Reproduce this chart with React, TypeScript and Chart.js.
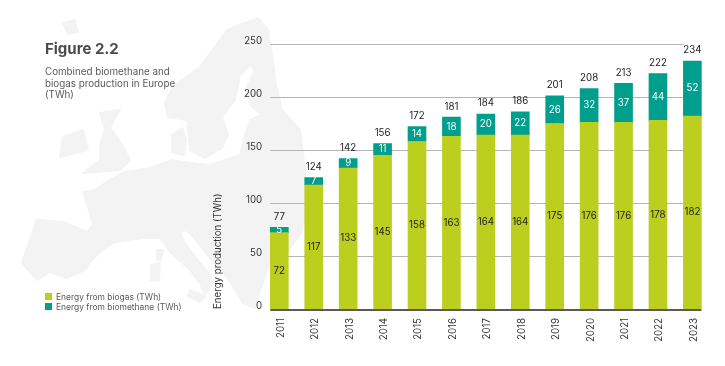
import React, { useEffect, useRef } from "react";
import { Chart, registerables } from "chart.js";

Chart.register(...registerables);

const years = ["2011","2012","2013","2014","2015","2016","2017","2018","2019","2020","2021","2022","2023"];
const biogas = [72,117,133,145,158,163,164,164,175,176,176,178,182];
const biomethane = [5,7,9,11,14,18,20,22,26,32,37,44,52];
const totals = [77,124,142,156,172,181,184,186,201,208,213,222,234];
const yTicks = [0,50,100,150,200,250];

const LIME = "#bccf1e";
const TEAL = "#009f8d";
const FONT = "Inter, sans-serif";

const mapPaths = [
  "M258 18 L268 30 L272 55 L276 85 L282 110 L300 130 L305 170 L308 205 L300 235 L285 255 L270 262 L262 285 L255 308 L243 303 L232 285 L222 270 L213 262 L200 245 L187 230 L180 232 L183 240 L196 258 L210 275 L212 285 L205 295 L200 283 L188 268 L170 252 L160 238 L145 238 L127 240 L113 243 L100 252 L90 262 L85 270 L67 278 L50 272 L37 280 L22 263 L28 245 L37 220 L63 222 L87 232 L93 225 L88 207 L83 192 L95 190 L105 183 L125 172 L150 168 L172 160 L190 163 L210 165 L240 155 L245 135 L250 120 L262 115 L250 105 L247 87 L255 70 L250 65 L240 75 L235 100 L222 117 L228 135 L222 148 L205 158 L190 150 L187 120 L168 117 L165 103 L173 87 L200 67 L227 30 Z",
  "M172 135 L182 128 L186 140 L184 155 L172 152 Z",
  "M100 113 L120 110 L110 127 L122 145 L130 160 L120 170 L83 173 L100 160 L100 145 L105 130 Z",
  "M63 137 L83 130 L88 150 L60 157 Z",
  "M63 23 L75 20 L78 32 L68 34 Z",
  "M157 250 L163 250 L161 260 L157 260 Z",
  "M151 265 L160 263 L159 280 L151 281 Z",
  "M190 290 L205 296 L200 302 L188 296 Z",
];

const valueLabels = {
  id: "valueLabels",
  beforeDatasetsDraw(chart: any) {
    const { ctx, scales } = chart;
    const y = scales.y;
    const first = chart.getDatasetMeta(0).data[0];
    const last = chart.getDatasetMeta(0).data[years.length - 1];
    const x0 = first.x - first.width / 2;
    const x1 = last.x - last.width / 2;
    ctx.save();
    ctx.strokeStyle = "#b5b5b5";
    ctx.lineWidth = 1;
    yTicks.filter((v) => v > 0).forEach((v) => {
      const py = Math.round(y.getPixelForValue(v)) + 0.5;
      ctx.beginPath();
      ctx.moveTo(x0, py);
      ctx.lineTo(x1, py);
      ctx.stroke();
    });
    ctx.restore();
  },
  afterDatasetsDraw(chart: any) {
    const { ctx, scales } = chart;
    const y = scales.y;
    const m0 = chart.getDatasetMeta(0).data;
    const m1 = chart.getDatasetMeta(1).data;
    ctx.save();
    ctx.strokeStyle = "#5a5a5a";
    ctx.lineWidth = 2;
    const base = y.getPixelForValue(0);
    ctx.beginPath();
    ctx.moveTo(m0[0].x - m0[0].width / 2, base + 1);
    ctx.lineTo(m0[years.length - 1].x + m0[0].width / 2, base + 1);
    ctx.stroke();
    ctx.font = `9.7px ${FONT}`;
    ctx.textAlign = "center";
    ctx.textBaseline = "middle";
    years.forEach((_, i) => {
      ctx.fillStyle = "#222222";
      ctx.fillText(String(biogas[i]), m0[i].x, (m0[i].y + m0[i].base) / 2);
      ctx.fillStyle = "#ffffff";
      ctx.fillText(String(biomethane[i]), m1[i].x, (m1[i].y + m1[i].base) / 2);
      ctx.fillStyle = "#222222";
      ctx.fillText(String(totals[i]), m0[i].x, m1[i].y - 10.5);
    });
    ctx.restore();
  },
};

const legendItems = [
  { label: "Energy from biogas (TWh)", color: LIME },
  { label: "Energy from biomethane (TWh)", color: TEAL },
];

export default function App() {
  const ref = useRef<HTMLCanvasElement>(null);
  useEffect(() => {
    const chart = new Chart(ref.current!, {
      type: "bar",
      data: {
        labels: years,
        datasets: [
          { label: legendItems[0].label, data: biogas, backgroundColor: LIME, barThickness: 18 },
          { label: legendItems[1].label, data: biomethane, backgroundColor: TEAL, barThickness: 18 },
        ],
      },
      options: {
        responsive: false,
        animation: false,
        layout: { padding: { left: 212, right: 15.4, top: 44, bottom: 0 } },
        plugins: { legend: { display: false }, tooltip: { enabled: false } },
        scales: {
          x: {
            stacked: true,
            grid: { display: false, drawTicks: false },
            border: { display: false },
            afterFit: (s: any) => { s.height = 57; },
            ticks: {
              autoSkip: false,
              minRotation: 90,
              maxRotation: 90,
              padding: 9,
              labelOffset: 1.5,
              color: "#333333",
              font: { family: FONT, size: 9.7 },
            },
          },
          y: {
            stacked: true,
            min: 0,
            max: 250,
            afterFit: (s: any) => { s.width = 50.1; },
            afterBuildTicks: (s: any) => { s.ticks = yTicks.map((value) => ({ value })); },
            grid: { display: false, drawTicks: false },
            border: { display: false },
            title: {
              display: true,
              text: "Energy production (TWh)",
              align: "start",
              color: "#333333",
              font: { family: FONT, size: 9.7 },
              padding: 0,
            },
            ticks: {
              padding: 0,
              labelOffset: -3,
              color: "#333333",
              font: { family: FONT, size: 9.7 },
            },
          },
        },
      },
      plugins: [valueLabels],
    } as any);
    return () => chart.destroy();
  }, []);

  return (
    <div style={{ position: "fixed", left: 0, top: 0, width: 725, height: 366, background: "#fff", overflow: "hidden", fontFamily: FONT }}>
      <svg width={725} height={366} style={{ position: "absolute", left: 0, top: 0 }}>
        {mapPaths.map((d, i) => <path key={i} d={d} fill="#f3f3f3" stroke="#f3f3f3" strokeWidth={2} strokeLinejoin="round" />)}
      </svg>
      <canvas ref={ref} width={725} height={366} style={{ position: "absolute", left: 0, top: 0 }} />
      <div style={{ position: "absolute", left: 45, top: 39, fontSize: 15, fontWeight: 700, color: "#4a4a4a", lineHeight: "20px" }}>Figure 2.2</div>
      <div style={{ position: "absolute", left: 45, top: 66, width: 150, fontSize: 9.8, color: "#5a5a5a", lineHeight: "11.7px" }}>
        Combined biomethane and<br />biogas production in Europe<br />(TWh)
      </div>
      <div style={{ position: "absolute", left: 45, top: 291.5 }}>
        {legendItems.map((it) => (
          <div key={it.label} style={{ display: "flex", alignItems: "center", height: 10, fontSize: 8.45, color: "#5a5a5a", whiteSpace: "nowrap" }}>
            <span style={{ width: 7, height: 7, background: it.color, marginRight: 4 }} />
            {it.label}
          </div>
        ))}
      </div>
    </div>
  );
}
